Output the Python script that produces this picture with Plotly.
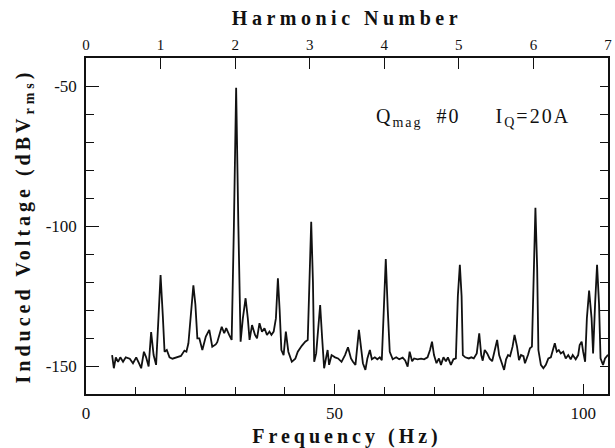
import plotly.graph_objects as go

# ---- data ----
freq_hz = [
    5.25, 5.6, 6.0, 6.45, 6.9, 7.45, 8.0, 8.8, 9.45, 10.1, 10.65, 11.1, 11.65, 12.1, 12.6,
    13.1, 13.6, 14.1, 14.6, 15.0, 15.45, 15.8, 16.25, 16.8, 17.4, 18.2, 19.1, 19.8, 20.2,
    20.6, 21.1, 21.6, 22.0, 22.4, 22.8, 23.4, 24.1, 24.8, 25.4, 26.1, 26.4, 26.9, 27.3,
    27.8, 28.2, 28.8, 29.3, 29.75, 30.2, 30.65, 31.1, 31.55, 32.1, 32.55, 32.9, 33.4, 34.0,
    34.4, 34.9, 35.4, 35.9, 36.4, 36.9, 37.3, 37.75, 38.2, 38.6, 38.95, 39.3, 39.75, 40.2,
    40.7, 41.4, 42.1, 42.6, 43.4, 44.1, 44.6, 44.95, 45.3, 45.65, 45.9, 46.3, 46.7, 47.1,
    47.5, 47.9, 48.3, 48.6, 48.9, 49.4, 50.1, 50.7, 51.4, 52.1, 52.7, 53.3, 53.7, 54.2,
    54.9, 55.3, 55.7, 56.2, 56.6, 57.1, 57.5, 58.1, 58.6, 59.1, 59.5, 59.9, 60.3, 60.7,
    61.1, 61.7, 62.4, 63.0, 63.7, 64.2, 64.7, 65.1, 65.6, 66.0, 66.7, 67.4, 68.0, 68.7,
    69.2, 69.6, 70.0, 70.5, 71.0, 71.4, 71.9, 72.4, 72.8, 73.4, 73.9, 74.4, 74.8, 75.2,
    75.55, 75.8, 76.3, 77.0, 77.5, 78.0, 78.6, 79.1, 79.5, 79.8, 80.2, 80.7, 81.2, 81.7,
    82.1, 82.7, 83.1, 83.7, 84.1, 84.5, 84.9, 85.3, 85.8, 86.2, 86.7, 87.1, 87.5, 88.0,
    88.3, 88.9, 89.3, 89.7, 90.05, 90.4, 90.75, 91.0, 91.5, 92.0, 92.5, 93.0, 93.5, 94.0,
    94.3, 94.7, 95.1, 95.5, 96.0, 96.5, 97.0, 97.5, 97.9, 98.5, 99.0, 99.3, 99.7, 100.0,
    100.4, 100.75, 101.2, 101.7, 102.0, 102.4, 102.8, 103.2, 103.5, 104.0, 104.4, 105.0,
]
voltage_dbv = [
    -146.1, -150.8, -146.9, -148.5, -146.9, -148.5, -146.9, -147.4, -149.0, -146.9, -149.0,
    -150.8, -144.9, -146.9, -150.2, -137.9, -146.1, -149.6, -132.0, -117.5, -132.0, -144.9,
    -144.3, -146.9, -147.4, -146.9, -146.4, -144.5, -144.9, -141.9, -130.0, -121.2, -128.0,
    -140.1, -140.1, -144.3, -139.5, -137.1, -143.1, -142.3, -141.5, -138.3, -136.0, -138.3,
    -136.5, -138.9, -140.7, -100.0, -50.6, -100.0, -141.3, -133.0, -125.8, -133.0, -140.7,
    -135.4, -138.9, -140.1, -134.7, -137.8, -136.5, -138.9, -137.7, -138.9, -137.7, -133.0,
    -118.7, -130.0, -144.3, -146.1, -137.7, -144.9, -148.5, -147.4, -144.9, -142.8, -141.3,
    -140.7, -120.0, -98.5, -120.0, -148.5, -145.5, -137.0, -128.2, -140.0, -150.8, -147.0,
    -144.3, -149.6, -146.1, -146.9, -147.3, -148.5, -146.1, -143.3, -147.3, -148.5, -149.6,
    -137.1, -143.0, -149.0, -151.4, -147.3, -144.3, -147.6, -146.9, -147.6, -146.9, -147.9,
    -130.0, -111.8, -130.0, -144.9, -147.6, -146.9, -147.6, -147.0, -148.0, -150.2, -144.9,
    -148.3, -147.3, -147.6, -147.4, -147.6, -146.9, -144.3, -141.3, -146.1, -149.0, -147.3,
    -149.6, -146.9, -148.3, -146.9, -149.6, -147.6, -147.3, -125.0, -113.9, -125.0, -146.1,
    -146.9, -147.3, -146.9, -147.3, -145.5, -138.3, -146.1, -148.1, -144.3, -145.5, -147.4,
    -148.3, -144.9, -140.7, -146.1, -149.0, -151.4, -147.6, -146.1, -146.5, -143.1, -138.9,
    -143.1, -147.9, -146.1, -146.5, -149.0, -146.1, -143.7, -143.1, -115.0, -93.5, -115.0,
    -144.3, -149.6, -150.8, -149.6, -147.3, -146.9, -144.0, -141.9, -144.9, -144.3, -145.5,
    -144.9, -147.3, -146.1, -147.6, -146.1, -147.6, -146.1, -142.5, -141.3, -144.9, -148.5,
    -133.0, -123.1, -133.0, -145.5, -128.0, -113.9, -128.0, -147.3, -149.6, -147.3, -146.0,
]

freq_ticks = [0, 50, 100]
freq_ticktext = ["0", "50", "100"]
harmonic_ticks = [0, 1, 2, 3, 4, 5, 6, 7]
volt_ticks = [-50, -100, -150]
volt_ticktext = ["-50", "-100", "-150"]

SERIF = "Liberation Serif, Times New Roman, serif"
BLACK = "#111111"

fig = go.Figure()
fig.add_trace(go.Scatter(
    x=freq_hz, y=voltage_dbv, mode="lines",
    line=dict(color=BLACK, width=1.8),
    showlegend=False, hoverinfo="skip",
))
# invisible trace anchoring the top/right axes
fig.add_trace(go.Scatter(
    x=[0], y=[-100], xaxis="x2", yaxis="y2", mode="markers",
    marker=dict(opacity=0), showlegend=False, hoverinfo="skip",
))

fig.add_annotation(
    x=77.8, y=-61.2, xref="x", yref="y", showarrow=False,
    text=('<span style="letter-spacing:2px">Q<sub>mag</sub>&nbsp;&nbsp;#0'
          '&nbsp;&nbsp;&nbsp;&nbsp;&nbsp;I<sub>Q</sub>=20A</span>'),
    font=dict(family=SERIF, size=20, color=BLACK),
)

fig.update_layout(
    width=615, height=448,
    margin=dict(l=86, r=3, t=58, b=53),
    paper_bgcolor="white", plot_bgcolor="white",
    font=dict(family=SERIF, color=BLACK),
    xaxis=dict(
        range=[0, 105], showgrid=False, zeroline=False,
        showline=True, linecolor=BLACK, linewidth=1.6,
        ticks="inside", ticklen=10, tickwidth=1.3, tickcolor=BLACK,
        tickvals=freq_ticks, ticktext=freq_ticktext,
        tickfont=dict(family=SERIF, size=17, color=BLACK),
        ticklabelstandoff=3,
        minor=dict(dtick=10, tick0=0, ticks="inside", ticklen=7, tickwidth=1.2, tickcolor=BLACK, showgrid=False),
        title=dict(text='<span style="letter-spacing:4px">Frequency (Hz)</span>',
                   font=dict(family=SERIF, size=20, color=BLACK, weight="bold"), standoff=8),
    ),
    xaxis2=dict(
        overlaying="x", side="top", anchor="y", range=[0, 7],
        showgrid=False, zeroline=False,
        showline=True, linecolor=BLACK, linewidth=1.6,
        ticks="inside", ticklen=11, tickwidth=1.3, tickcolor=BLACK,
        tickvals=harmonic_ticks, ticktext=[str(h) for h in harmonic_ticks],
        tickfont=dict(family=SERIF, size=15, color=BLACK),
        ticklabeloverflow="allow",
        title=dict(text='<span style="letter-spacing:4.5px">Harmonic Number</span>',
                   font=dict(family=SERIF, size=20, color=BLACK, weight="bold"), standoff=6),
    ),
    yaxis=dict(
        range=[-160, -40], showgrid=False, zeroline=False,
        showline=True, linecolor=BLACK, linewidth=1.6,
        ticks="inside", ticklen=13, tickwidth=1.3, tickcolor=BLACK,
        tickvals=volt_ticks, ticktext=volt_ticktext,
        tickfont=dict(family=SERIF, size=17, color=BLACK),
        ticklabelstandoff=4,
        minor=dict(dtick=10, tick0=-40, ticks="inside", ticklen=8, tickwidth=1.2, tickcolor=BLACK, showgrid=False),
        title=dict(text='<span style="letter-spacing:4px">Induced Voltage (dBV<sub>rms</sub>)</span>',
                   font=dict(family=SERIF, size=20, color=BLACK, weight="bold"), standoff=10),
    ),
    yaxis2=dict(
        overlaying="y", side="right", anchor="x", range=[-160, -40],
        showgrid=False, zeroline=False,
        showline=True, linecolor=BLACK, linewidth=1.6,
        ticks="inside", ticklen=8, tickwidth=1.2, tickcolor=BLACK,
        tickvals=list(range(-150, -40, 10)), showticklabels=False,
    ),
)

fig.write_html("out.html")
